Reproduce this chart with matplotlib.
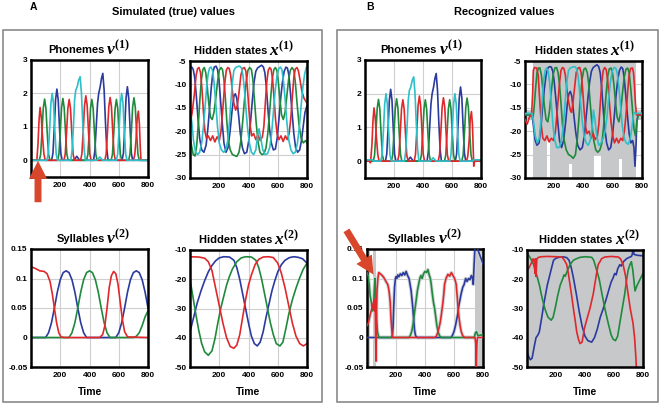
import matplotlib
matplotlib.use("Agg")
import matplotlib.pyplot as plt
from matplotlib.patches import Rectangle, FancyArrowPatch

plt.rcParams["font.family"] = "Liberation Sans"
plt.rcParams["font.weight"] = "bold"
plt.rcParams["mathtext.fontset"] = "custom"
plt.rcParams["mathtext.it"] = "Liberation Serif:italic"
plt.rcParams["mathtext.rm"] = "Liberation Serif"

# ── Colours ───────────────────────────────────────────────────────────────────
RED, GREEN, BLUE, CYAN = "#e0282c", "#1f8a3c", "#2b3a9e", "#2fbfc8"
GRAY = "#c6c8ca"
ARROW = "#d8472c"

# ── Phonemes v(1) (true) ──────────────────────────────────────────────────────
ph_red_t = [0, 40, 48, 55, 62, 70, 79, 88, 97,
            225, 234, 243, 252, 261, 270, 279, 288, 297,
            339, 348, 357, 366, 375, 384, 393, 402, 411,
            505, 514, 523, 532, 541, 550, 559, 568, 577,
            700, 709, 718, 726, 734, 741, 747, 752, 800]
ph_red_v = [0, 0, 0.5, 1.2, 1.58, 1.3, 0.7, 0.2, 0,
            0, 0.18, 0.82, 1.55, 1.82, 1.55, 0.82, 0.18, 0,
            0, 0.19, 0.87, 1.64, 1.93, 1.64, 0.87, 0.19, 0,
            0, 0.19, 0.85, 1.6, 1.88, 1.6, 0.85, 0.19, 0,
            0, 0.15, 0.6, 1.25, 1.47, 1.1, 0.4, 0, 0]
ph_green_t = [0, 57, 66, 75, 84, 93, 102, 111, 120, 129,
              182, 191, 200, 209, 218, 227, 236, 245, 254,
              380, 389, 398, 407, 416, 425, 434, 443, 452,
              548, 557, 566, 575, 584, 593, 602, 611, 620,
              668, 677, 686, 695, 704, 713, 722, 731, 740, 800]
ph_green_v = [0, 0, 0.18, 0.82, 1.56, 1.83, 1.56, 0.82, 0.18, 0,
              0, 0.19, 0.83, 1.57, 1.85, 1.57, 0.83, 0.19, 0,
              0, 0.18, 0.82, 1.55, 1.82, 1.55, 0.82, 0.18, 0,
              0, 0.18, 0.82, 1.55, 1.82, 1.55, 0.82, 0.18, 0,
              0, 0.19, 0.84, 1.59, 1.87, 1.59, 0.84, 0.19, 0, 0]
ph_cyan_t = [0, 109, 118, 127, 136, 145, 154, 163, 172, 181,
             272, 281, 290, 298, 306, 316, 326, 336, 345, 354, 363, 372,
             450, 470, 490,
             584, 593, 602, 611, 620, 629, 638, 647, 656, 800]
ph_cyan_v = [0, 0, 0.2, 0.9, 1.7, 2.0, 1.7, 0.9, 0.2, 0,
             0, 0.3, 1.0, 1.8, 2.1, 2.2, 2.4, 2.5, 2.0, 1.1, 0.35, 0,
             0, 0.1, 0,
             0, 0.2, 0.9, 1.7, 2.0, 1.7, 0.9, 0.2, 0, 0]
ph_blue_t = [0, 141, 150, 159, 168, 177, 186, 195, 204, 213,
             293, 313, 333,
             428, 437, 446, 455, 463, 473, 482, 491, 500, 509, 518, 527,
             623, 632, 641, 650, 659, 668, 677, 686, 695, 800]
ph_blue_v = [0, 0, 0.21, 0.96, 1.81, 2.13, 1.81, 0.96, 0.21, 0,
             0, 0.12, 0,
             0, 0.3, 1.0, 1.7, 2.0, 2.2, 2.45, 2.6, 2.1, 1.15, 0.35, 0,
             0, 0.22, 0.99, 1.87, 2.2, 1.87, 0.99, 0.22, 0, 0]

# recognised phonemes: same bumps, small undershoots at the ends
phr_red_t = [0, 30, 38] + ph_red_t[2:-3] + [750, 756, 800]
phr_red_v = [0, 0, -0.05] + ph_red_v[2:-3] + [-0.15, 0, 0]
phr_cyan_t = [0, 50, 60] + ph_cyan_t[1:-1] + [740, 750, 800]
phr_cyan_v = [0.04, 0.04, 0] + ph_cyan_v[1:-1] + [0, 0.04, 0.04]

# ── Hidden states x(1) (true) ─────────────────────────────────────────────────
hx1_red_t = [0, 15, 30, 42, 52, 62, 72, 82, 92, 102, 112, 125, 140, 155, 170, 185, 200,
             212, 225, 237, 248, 258, 268, 278, 290, 300, 312, 324, 336, 348, 360, 372,
             382, 392, 402, 412, 422, 435, 450, 465, 480, 495, 505, 515, 525, 535, 545,
             555, 565, 575, 585, 595, 608, 622, 637, 652, 665, 678, 690, 700, 710, 720,
             732, 742, 752, 765, 780, 800]
hx1_red_v = [-18.5, -16, -12, -8, -6.6, -6.4, -7.5, -11, -16, -20, -21.5, -21, -22, -21,
             -22.3, -21.2, -22, -20, -15, -10, -7, -6.4, -6.6, -8, -11.5, -14, -15.5,
             -14.5, -11.5, -8, -6.6, -6.4, -7.2, -10.5, -15, -19, -21, -20.5, -21.8,
             -20.8, -22, -21.2, -19, -14, -9.5, -7, -6.4, -6.8, -9, -13, -17.5, -20.5,
             -21.8, -21, -22.2, -21, -21.8, -20.5, -17, -12.5, -8.5, -6.7, -6.4, -7.2,
             -9, -11.5, -13, -14]
hx1_green_t = [0, 10, 22, 34, 46, 58, 68, 78, 88, 98, 108, 118, 128, 140, 152, 164, 176,
               188, 200, 212, 222, 232, 242, 252, 262, 275, 290, 305, 320, 335, 348, 360,
               372, 384, 396, 408, 420, 430, 440, 452, 464, 478, 492, 506, 520, 532, 544,
               554, 564, 574, 584, 594, 604, 614, 626, 638, 650, 662, 674, 686, 698, 710,
               720, 732, 745, 760, 775, 790, 800]
hx1_green_v = [-21, -23, -25, -25.3, -23, -18, -13, -9, -6.8, -6.4, -7.5, -10.5, -14, -17,
               -17.5, -16, -13, -9.5, -7, -6.4, -6.8, -9, -13, -18, -22, -24, -25, -25.2,
               -25.4, -24.5, -22, -18, -13.5, -9.5, -7, -6.4, -6.8, -9, -13, -18, -22,
               -24.5, -25, -24.8, -23.5, -20.5, -16, -12, -8.5, -6.8, -6.4, -7, -9.5, -13,
               -16.5, -17.5, -16, -12.5, -9, -7, -6.4, -7, -9.5, -14, -18.5, -21.5, -22.5,
               -22, -22.5]
hx1_cyan_t = [0, 12, 24, 38, 52, 66, 80, 92, 104, 114, 124, 134, 144, 154, 164, 176, 188,
              200, 215, 230, 245, 258, 270, 280, 290, 300, 312, 325, 340, 352, 362, 372,
              382, 394, 406, 420, 435, 450, 462, 472, 484, 498, 514, 530, 545, 558, 570,
              582, 594, 606, 618, 628, 638, 650, 662, 676, 690, 705, 720, 735, 748, 760,
              772, 784, 796, 800]
hx1_cyan_v = [-15, -18, -22, -24.5, -25, -24.5, -22.5, -19, -14.5, -10.5, -7.8, -6.5, -6.3,
              -7, -9.5, -14, -19, -22.5, -24, -24.5, -24, -22, -18, -13.5, -9.5, -7, -6.4,
              -6.2, -6.1, -6.5, -8, -11, -15, -19.5, -22.5, -24.5, -25, -24, -21, -19.5,
              -21.5, -24, -25, -24.8, -23.5, -20.5, -16, -11.5, -8.3, -6.7, -6.3, -6.8, -9,
              -13, -18, -22, -24, -24.8, -24.5, -22.5, -19, -14.5, -10.5, -7.8, -6.3, -6.2]
hx1_blue_t = [0, 12, 22, 32, 42, 54, 66, 80, 95, 110, 122, 134, 146, 156, 166, 178, 188,
              198, 208, 220, 232, 246, 260, 274, 288, 300, 310, 320, 332, 344, 358, 372,
              388, 402, 414, 426, 438, 450, 462, 475, 490, 502, 512, 522, 532, 544, 556,
              570, 584, 596, 608, 620, 632, 644, 656, 666, 676, 686, 698, 710, 722, 736,
              750, 762, 774, 786, 800]
hx1_blue_v = [-6.5, -6.3, -6.8, -8.5, -12, -17, -21.5, -24, -24.5, -23, -19.5, -15, -10.5,
              -7.5, -6.3, -6.1, -6.8, -9, -13, -18, -22.5, -24.5, -23.5, -20, -15.5, -12.5,
              -12, -13, -16.5, -20.5, -23.5, -24.8, -24.5, -22, -18, -13.5, -9.5, -7.2,
              -6.5, -6.2, -5.9, -6.3, -7.5, -10.5, -15, -19.5, -22.5, -24, -23.8, -21.5,
              -17.5, -13, -9.5, -7.2, -6.3, -6.5, -8, -11.5, -16, -20.5, -23.5, -24.5, -24,
              -22, -19, -16, -14.5]

# ── Hidden states x(1) (recognised) ───────────────────────────────────────────
hr1_red_t = [0, 15, 30, 45, 52, 57, 65, 80, 90, 100, 112, 122, 135, 150, 165, 180, 195,
             208, 222, 235, 246, 256, 266, 276, 288, 300, 310, 318, 326, 338, 350, 362,
             374, 384, 394, 404, 414, 424, 438, 452, 466, 480, 495, 505, 515, 525, 535,
             545, 555, 565, 576, 588, 600, 612, 626, 640, 655, 668, 680, 692, 702, 712,
             722, 735, 742, 748, 755, 762, 800]
hr1_red_v = [-17.5, -18.5, -17, -16.5, -12, -7, -6.4, -6.5, -8, -13, -19, -21.5, -22, -21,
             -22.3, -21.5, -22, -20, -15, -10, -7, -6.4, -6.6, -8, -11.5, -14, -15.5, -16,
             -14.5, -11, -7.5, -6.5, -6.4, -7.5, -11, -15.5, -19, -20.5, -20, -21.5, -20.5,
             -21.8, -21, -18.5, -14, -9.5, -7, -6.4, -6.8, -9, -13.5, -18, -21, -22.5,
             -21.5, -22.5, -21.5, -22, -20, -16, -11.5, -8, -6.6, -6.5, -7.5, -10, -14,
             -16.5, -16.5]
hr1_green_t = [0, 45, 55, 62, 72, 82, 92, 102, 112, 122, 132, 144, 156, 168, 180, 192,
               204, 216, 226, 236, 246, 256, 268, 282, 298, 314, 330, 345, 358, 368, 378,
               390, 402, 414, 426, 436, 446, 458, 470, 484, 498, 512, 526, 536, 546, 556,
               566, 576, 588, 598, 608, 618, 630, 642, 654, 666, 678, 690, 702, 712, 722,
               734, 745, 755, 765, 775, 800]
hr1_green_v = [-16.5, -16.5, -17, -15, -11, -7.5, -6.5, -6.5, -8, -11, -14.5, -17.5, -18,
               -15.5, -11.5, -8, -6.5, -6.4, -7.5, -10, -14, -18.5, -22, -24, -25, -25.3,
               -25.8, -25, -21.5, -17.5, -13, -9, -6.8, -6.5, -7.5, -10, -14, -18.5, -22,
               -24, -24.5, -24, -22.5, -19.5, -15.5, -11.5, -8.2, -6.7, -6.5, -7.5, -10,
               -13.5, -17, -18, -16, -12, -8.5, -6.8, -6.5, -7.5, -10.5, -15, -19.5, -21,
               -18, -16.5, -16.5]
hr1_cyan_t = [0, 48, 58, 70, 84, 98, 108, 118, 128, 138, 148, 158, 168, 180, 192, 204,
              218, 232, 246, 258, 268, 278, 288, 298, 310, 325, 340, 352, 362, 372, 382,
              392, 404, 418, 432, 446, 458, 468, 478, 490, 505, 520, 535, 548, 560, 572,
              584, 596, 608, 620, 630, 640, 652, 664, 678, 692, 706, 720, 732, 744, 756, 800]
hr1_cyan_v = [-16.2, -16.2, -18, -21, -22.5, -21.5, -18, -13, -9, -7, -6.5, -7.2, -9.5, -14,
              -19, -22, -23.5, -23.5, -22.5, -20, -16.5, -12.5, -9, -7, -6.5, -6.3, -6.2,
              -6.6, -8, -11, -14.5, -18, -21, -22.5, -23, -22, -19.5, -15.5, -17.5, -21,
              -23, -22.5, -21.5, -20, -17, -13, -9.5, -7.2, -6.4, -6.5, -7.5, -10, -14,
              -18.5, -21.5, -22.5, -22.8, -21.5, -19, -16, -16.2, -16.2]
hr1_blue_t = [0, 48, 58, 70, 82, 96, 108, 120, 132, 144, 156, 168, 180, 190, 200, 212,
              224, 236, 250, 264, 278, 290, 300, 310, 320, 332, 346, 360, 376, 392, 406,
              418, 430, 442, 454, 466, 478, 492, 504, 514, 524, 534, 546, 558, 572, 586,
              598, 610, 622, 634, 646, 658, 668, 678, 688, 700, 712, 724, 736, 745, 752,
              758, 765, 772, 800]
hr1_blue_v = [-16.5, -16.5, -19, -22, -23, -22.5, -19.5, -15, -11, -8, -6.5, -6.2, -6.3,
              -7.2, -9.5, -13.5, -18, -22, -23.5, -22, -18, -14, -12, -11.5, -12.5, -16,
              -20, -23, -24, -23.5, -21, -17, -13, -9.5, -7.2, -6.4, -6.1, -5.8, -6.2, -7.5,
              -10.5, -15, -19.5, -22.5, -24, -23.5, -21, -17, -12.5, -9, -7, -6.3, -6.6,
              -8.5, -12, -16.5, -20.5, -22.5, -22, -23.5, -27.5, -24, -18, -16.5, -16.5]
# confidence region of the recognised x(1) (step edges)
ci1_t = [0, 55, 150, 172, 300, 320, 470, 520, 640, 660, 760, 800]
ci1_lo = [-17.6, -30, -22, -30, -27, -30, -25, -30, -26, -30, -17.6, -17.6]
ci1_hi = [-15.4, -5, -5, -5, -5, -5, -5, -5, -5, -5, -15.4, -15.4]

# ── Syllables v(2) (true) ─────────────────────────────────────────────────────
sy_red_t = [0, 30, 60, 90, 110, 130, 145, 160, 175, 190, 205, 230, 470, 490, 505, 520,
            535, 550, 565, 580, 595, 610, 625, 640, 660, 800]
sy_red_v = [0.12, 0.117, 0.113, 0.112, 0.108, 0.095, 0.075, 0.05, 0.025, 0.008, 0.001, 0,
            0, 0.005, 0.02, 0.05, 0.085, 0.105, 0.112, 0.108, 0.09, 0.06, 0.03, 0.01,
            0.001, 0]
sy_blue_t = [0, 100, 120, 140, 160, 180, 200, 220, 240, 260, 280, 300, 320, 340, 360,
             380, 580, 600, 620, 640, 660, 680, 700, 720, 740, 760, 780, 800]
sy_blue_v = [0, 0, 0.008, 0.025, 0.05, 0.077, 0.098, 0.11, 0.113, 0.11, 0.098, 0.077,
             0.05, 0.025, 0.008, 0, 0, 0.008, 0.025, 0.05, 0.077, 0.098, 0.11, 0.113,
             0.11, 0.098, 0.077, 0.05]
sy_green_t = [0, 260, 280, 300, 320, 340, 360, 380, 400, 420, 440, 460, 480, 500, 520,
              540, 700, 720, 740, 760, 780, 800]
sy_green_v = [0, 0, 0.008, 0.025, 0.05, 0.077, 0.098, 0.11, 0.113, 0.11, 0.098, 0.077,
              0.05, 0.025, 0.008, 0, 0, 0.002, 0.008, 0.02, 0.035, 0.045]

# ── Syllables v(2) (recognised) ───────────────────────────────────────────────
syr_red_t = [0, 10, 23, 35, 45, 52, 56, 59, 62, 65, 69, 75, 81, 92, 105, 120, 135, 143,
             150, 154, 160, 166, 172, 177, 200, 470, 480, 490, 500, 508, 516, 524, 530,
             535, 545, 558, 570, 582, 593, 604, 610, 615, 622, 628, 634, 642, 650, 660,
             673, 745, 750, 754, 758, 762, 800]
syr_red_v = [0.02, 0.025, 0.04, 0.05, 0.06, 0.045, 0.065, 0.01, -0.04, 0.03, 0.08, 0.1,
             0.11, 0.108, 0.105, 0.1, 0.093, 0.09, 0.082, 0.075, 0.06, 0.03, 0.01, 0, 0,
             0, 0.003, 0.01, 0.02, 0.03, 0.045, 0.06, 0.075, 0.09, 0.1, 0.107, 0.104,
             0.11, 0.105, 0.1, 0.095, 0.09, 0.07, 0.05, 0.035, 0.02, 0.01, 0.003, 0, 0,
             -0.01, -0.05, -0.01, 0, 0]
syr_blue_t = [0, 170, 176, 180, 184, 190, 196, 200, 205, 212, 220, 230, 240, 250, 260,
              270, 280, 290, 297, 304, 310, 316, 322, 328, 335, 345, 580, 590, 600, 610,
              618, 626, 634, 642, 650, 660, 670, 680, 690, 700, 710, 720, 728, 733, 738,
              745, 755, 770, 785, 800]
syr_blue_v = [0, 0, 0.005, 0.02, 0.05, 0.085, 0.1, 0.103, 0.1, 0.106, 0.103, 0.108,
              0.105, 0.11, 0.106, 0.112, 0.105, 0.1, 0.09, 0.08, 0.065, 0.05, 0.03, 0.012,
              0.003, 0, 0, 0.004, 0.01, 0.02, 0.03, 0.04, 0.055, 0.065, 0.075, 0.085,
              0.09, 0.1, 0.095, 0.1, 0.098, 0.105, 0.1, 0.09, 0.12, 0.155, 0.155, 0.145,
              0.135, 0.125]
syr_green_t = [0, 8, 15, 22, 30, 38, 45, 50, 55, 60, 66, 72, 78, 85, 95, 290, 300, 308,
               316, 324, 332, 340, 348, 356, 364, 372, 380, 390, 400, 410, 420, 430, 437,
               443, 450, 458, 466, 474, 482, 490, 500, 512, 740, 748, 755, 765, 800]
syr_green_v = [0.11, 0.105, 0.09, 0.07, 0.06, 0.045, 0.05, 0.08, 0.1, 0.07, 0.03, 0.01,
               0.003, 0, 0, 0, 0.004, 0.01, 0.02, 0.035, 0.05, 0.065, 0.08, 0.09, 0.1,
               0.105, 0.1, 0.108, 0.112, 0.11, 0.115, 0.105, 0.1, 0.09, 0.075, 0.06, 0.05,
               0.035, 0.02, 0.01, 0.003, 0, 0, 0.008, 0.01, 0.003, 0.005]
ci2_bands = [(0, 20), (44, 62), (748, 800)]

# ── Hidden states x(2) (true) ─────────────────────────────────────────────────
hx2_red_t = [0, 60, 100, 125, 150, 175, 200, 225, 250, 275, 300, 320, 340, 360, 380, 400,
             420, 445, 470, 500, 540, 570, 600, 625, 650, 675, 700, 725, 750, 775, 800]
hx2_red_v = [-12.3, -12.4, -12.8, -14, -17, -23, -29, -35, -40, -43, -43.6, -42.5, -39,
             -33, -27, -22, -18.5, -15, -13.2, -12.4, -12.3, -12.6, -14.5, -18, -23, -29,
             -35, -39.5, -42, -42.8, -42]
hx2_blue_t = [0, 25, 50, 75, 100, 125, 150, 175, 200, 230, 270, 300, 320, 340, 360, 380,
              400, 420, 440, 460, 480, 500, 520, 540, 560, 580, 600, 625, 650, 680, 710,
              740, 770, 800]
hx2_blue_v = [-38, -33, -28, -24, -20.5, -17.5, -15.3, -13.7, -12.7, -12.3, -12.4, -13.5,
              -16, -20, -25, -30, -35, -39.5, -42, -42.8, -41.5, -38, -33, -28.5, -24,
              -20.5, -17.5, -15, -13.5, -12.6, -12.3, -12.5, -13, -14.5]
hx2_green_t = [0, 20, 40, 60, 80, 100, 125, 150, 170, 190, 210, 230, 250, 270, 290, 320,
               350, 380, 420, 450, 470, 490, 510, 530, 550, 570, 590, 615, 635, 655, 675,
               700, 725, 750, 775, 800]
hx2_green_v = [-20, -26, -32, -37.5, -42, -44.8, -46, -44.5, -40.5, -35, -30, -26, -22,
               -19, -16.5, -14, -12.7, -12.3, -12.4, -13.5, -16, -20, -25, -30, -35, -39,
               -42, -42.8, -41.5, -37, -32, -27, -23, -19.5, -16.5, -14.5]

# ── Hidden states x(2) (recognised) ───────────────────────────────────────────
hr2_red_t = [0, 15, 30, 42, 50, 55, 58, 62, 68, 80, 100, 140, 200, 240, 258, 274, 285,
             297, 309, 320, 332, 343, 355, 366, 380, 395, 411, 434, 457, 470, 480, 491,
             503, 514, 537, 580, 629, 645, 663, 680, 697, 712, 731, 742, 750, 754]
hr2_red_v = [-17, -16, -14.5, -13, -14, -18, -13, -19, -13, -12.5, -12.3, -12.2, -12.3,
             -12.4, -13.5, -15, -18, -22, -26, -30, -34, -38, -40.5, -42, -41.5, -37, -34,
             -30, -25, -21, -18, -15, -14, -13, -12.4, -12.2, -12.4, -13, -15, -19, -25,
             -30, -35, -40, -46, -50]
hr2_blue_t = [0, 12, 23, 35, 50, 62, 69, 76, 85, 95, 105, 114, 125, 140, 155, 170, 183,
              200, 220, 245, 274, 290, 305, 320, 340, 360, 380, 400, 420, 446, 465, 485,
              505, 526, 545, 565, 580, 594, 605, 615, 625, 640, 650, 665, 686, 705, 720,
              726, 731, 738, 760, 800]
hr2_blue_v = [-45, -46.5, -47.5, -47, -43, -40, -39.5, -39, -38, -35, -32, -29, -26, -22,
              -19, -16, -13.5, -12.8, -12.5, -12.3, -12.6, -13.5, -16, -19.5, -25, -31,
              -36, -39.5, -41, -41.5, -40, -37, -33, -30, -27, -23.5, -21, -19.5, -18,
              -18.5, -16.5, -15, -15.5, -14, -13, -12.5, -12.2, -11.5, -9.5, -11.5, -11.8,
              -12]
hr2_green_t = [0, 20, 46, 60, 75, 88, 98, 112, 126, 145, 167, 180, 194, 210, 229, 245,
               255, 263, 275, 297, 320, 340, 366, 400, 446, 460, 469, 484, 498, 517, 537,
               560, 580, 594, 610, 625, 640, 657, 674, 686, 697, 710, 720, 730, 745, 760,
               780, 800]
hr2_green_v = [-11, -12.5, -15, -17.5, -20, -22.5, -25, -28, -30.5, -33, -34, -33, -30,
               -26, -22, -20, -18.5, -19, -17.5, -15, -13.5, -13, -12.5, -12.3, -12.5,
               -13.5, -15, -17.5, -20, -25, -30, -35, -39, -40.5, -41, -39.5, -35, -30,
               -25, -20.5, -17, -15, -14, -17, -24, -22, -20, -18]

# ── Layout (pixel boxes of the 661 x 407 figure) ──────────────────────────────
W, H = 661, 407
fig = plt.figure(figsize=(W / 100, H / 100), dpi=100)


def box(x0, y0, x1, y1):
    return [x0 / W, 1 - y1 / H, (x1 - x0) / W, (y1 - y0) / H]


def panel(rect, ylim, yticks, ylabels, word, math, word_x, time=False, grid=True):
    ax = fig.add_axes(box(*rect))
    ax.set_xlim(0, 800)
    ax.set_ylim(*ylim)
    ax.set_xticks([200, 400, 600, 800])
    ax.set_yticks(yticks)
    ax.set_yticklabels(ylabels)
    ax.tick_params(length=0, labelsize=6)
    ax.tick_params(axis="x", pad=3.5)
    ax.tick_params(axis="y", pad=2.5)
    for s in ax.spines.values():
        s.set_linewidth(1.8)
    if grid:
        ax.grid(color="#cfcfcf", lw=0.8)
    ax.set_axisbelow(True)
    ax.text(word_x, 1.06, word, transform=ax.transAxes, ha="right", va="baseline",
            fontsize=8, fontweight="bold")
    ax.text(word_x + 0.015, 1.05, math, transform=ax.transAxes, ha="left",
            va="baseline", fontsize=12.5)
    if time:
        ax.set_xlabel("Time", fontsize=7.5, fontweight="bold", labelpad=6)
    return ax


ph_ticks, ph_lab = [0, 1, 2, 3], ["0", "1", "2", "3"]
x1_ticks = [-30, -25, -20, -15, -10, -5]
x1_lab = [str(v) for v in x1_ticks]
sy_ticks = [-0.05, 0, 0.05, 0.1, 0.15]
sy_lab = ["-0.05", "0", "0.05", "0.1", "0.15"]
x2_ticks = [-50, -40, -30, -20, -10]
x2_lab = [str(v) for v in x2_ticks]
LW = 1.2

# ── A: simulated (true) values ────────────────────────────────────────────────
ax = panel((31, 60, 148, 177), (-0.5, 3), ph_ticks, ph_lab, "Phonemes", r"$v^{(1)}$", 0.63)
ax.plot(ph_blue_t, ph_blue_v, color=BLUE, lw=LW)
ax.plot(ph_green_t, ph_green_v, color=GREEN, lw=LW)
ax.plot(ph_red_t, ph_red_v, color=RED, lw=LW)
ax.plot(ph_cyan_t, ph_cyan_v, color=CYAN, lw=LW)

ax = panel((190, 61, 307, 178), (-30, -5), x1_ticks, x1_lab, "Hidden states", r"$x^{(1)}$", 0.66)
ax.plot(hx1_blue_t, hx1_blue_v, color=BLUE, lw=LW)
ax.plot(hx1_green_t, hx1_green_v, color=GREEN, lw=LW)
ax.plot(hx1_red_t, hx1_red_v, color=RED, lw=LW)
ax.plot(hx1_cyan_t, hx1_cyan_v, color=CYAN, lw=LW)

ax = panel((31, 249, 148, 367), (-0.05, 0.15), sy_ticks, sy_lab, "Syllables", r"$v^{(2)}$", 0.63, time=True)
ax.plot(sy_blue_t, sy_blue_v, color=BLUE, lw=LW)
ax.plot(sy_green_t, sy_green_v, color=GREEN, lw=LW)
ax.plot(sy_red_t, sy_red_v, color=RED, lw=LW)

ax = panel((190, 250, 307, 367), (-50, -10), x2_ticks, x2_lab, "Hidden states", r"$x^{(2)}$", 0.70, time=True)
ax.plot(hx2_blue_t, hx2_blue_v, color=BLUE, lw=LW)
ax.plot(hx2_green_t, hx2_green_v, color=GREEN, lw=LW)
ax.plot(hx2_red_t, hx2_red_v, color=RED, lw=LW)

# ── B: recognised values ──────────────────────────────────────────────────────
ax = panel((365, 60, 481, 178), (-0.5, 3), ph_ticks, ph_lab, "Phonemes", r"$v^{(1)}$", 0.62)
ax.plot(ph_blue_t, ph_blue_v, color=BLUE, lw=LW)
ax.plot(ph_green_t, ph_green_v, color=GREEN, lw=LW)
ax.plot(phr_red_t, phr_red_v, color=RED, lw=LW)
ax.plot(phr_cyan_t, phr_cyan_v, color=CYAN, lw=LW)

ax = panel((525, 61, 642, 178), (-30, -5), x1_ticks, x1_lab, "Hidden states", r"$x^{(1)}$", 0.71)
ax.fill_between(ci1_t, ci1_lo, ci1_hi, step="post", color=GRAY, lw=0, zorder=1)
ax.plot(hr1_blue_t, hr1_blue_v, color=BLUE, lw=LW, zorder=3)
ax.plot(hr1_green_t, hr1_green_v, color=GREEN, lw=LW, zorder=3)
ax.plot(hr1_red_t, hr1_red_v, color=RED, lw=LW, zorder=3)
ax.plot(hr1_cyan_t, hr1_cyan_v, color=CYAN, lw=LW, zorder=3)

ax = panel((367, 249, 483, 367), (-0.05, 0.15), sy_ticks, sy_lab, "Syllables", r"$v^{(2)}$", 0.60, time=True)
for a, b in ci2_bands:
    ax.axvspan(a, b, color=GRAY, lw=0, zorder=1)
for tt, vv in [(syr_blue_t, syr_blue_v), (syr_green_t, syr_green_v), (syr_red_t, syr_red_v)]:
    ax.plot(tt, vv, color="#d4d6d8", lw=2.6, zorder=2, solid_joinstyle="round")
ax.plot(syr_blue_t, syr_blue_v, color=BLUE, lw=LW, zorder=3)
ax.plot(syr_green_t, syr_green_v, color=GREEN, lw=LW, zorder=3)
ax.plot(syr_red_t, syr_red_v, color=RED, lw=LW, zorder=3)

ax = panel((527, 250, 643, 367), (-50, -10), x2_ticks, x2_lab, "Hidden states", r"$x^{(2)}$", 0.74, time=True, grid=False)
ax.set_facecolor(GRAY)
ax.plot(hr2_blue_t, hr2_blue_v, color=BLUE, lw=LW)
ax.plot(hr2_green_t, hr2_green_v, color=GREEN, lw=LW)
ax.plot(hr2_red_t, hr2_red_v, color=RED, lw=LW)

# ── Frames, headings, arrows ──────────────────────────────────────────────────
for x0, x1 in [(3, 322), (337, 658)]:
    fig.patches.append(Rectangle((x0 / W, 1 - 402 / H), (x1 - x0) / W, 372 / H,
                                 transform=fig.transFigure, fill=False,
                                 edgecolor="#8a8a8a", lw=1.2))
fig.text(33 / W, 1 - 7 / H, "A", fontsize=7.5, fontweight="bold", ha="center", va="center")
fig.text(370 / W, 1 - 7 / H, "B", fontsize=7.5, fontweight="bold", ha="center", va="center")
fig.text(173 / W, 1 - 12 / H, "Simulated (true) values", fontsize=8, fontweight="bold",
         ha="center", va="center")
fig.text(504 / W, 1 - 12 / H, "Recognized values", fontsize=8, fontweight="bold",
         ha="center", va="center")

for tail, tip in [((38, 205), (38, 158)), ((345, 228), (375, 277))]:
    fig.add_artist(FancyArrowPatch(
        (tail[0], H - tail[1]), (tip[0], H - tip[1]), transform=None,
        arrowstyle="simple,head_length=1.3,head_width=1.3,tail_width=0.5",
        mutation_scale=10, color=ARROW, lw=0, zorder=10))

fig.savefig("out.png", dpi=100)
